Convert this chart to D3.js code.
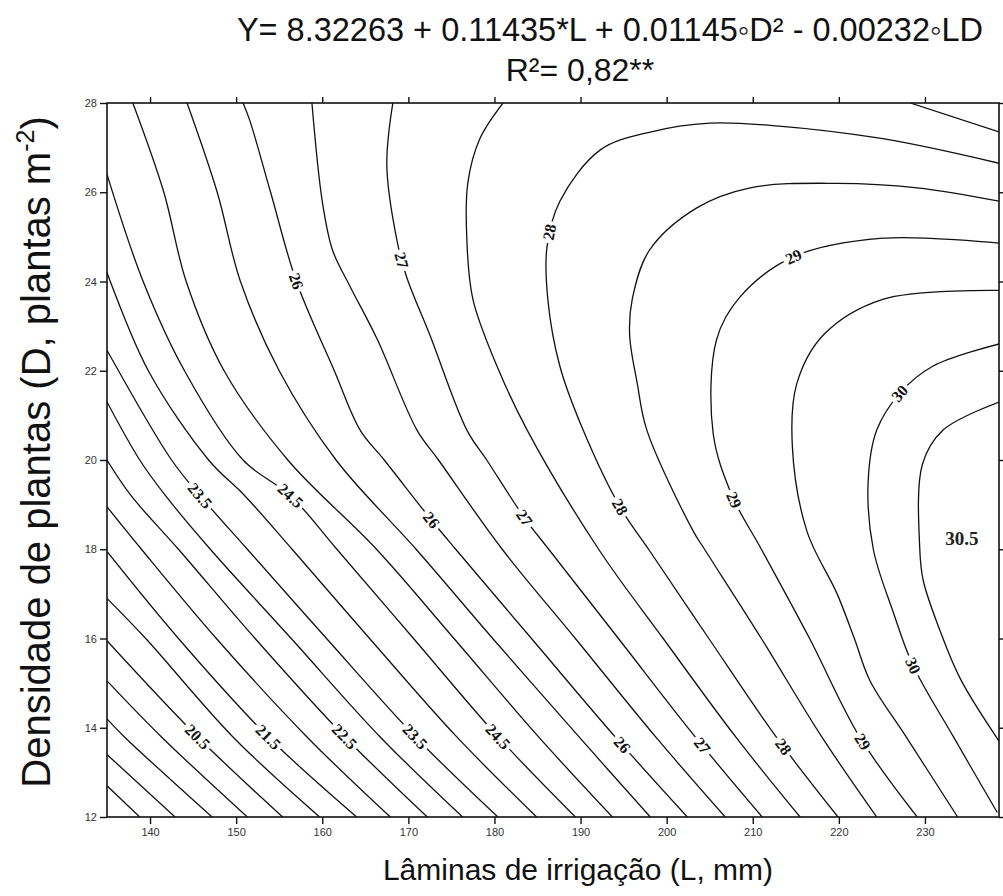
<!DOCTYPE html>
<html>
<head>
<meta charset="utf-8">
<script src="https://cdn.jsdelivr.net/npm/d3@7"></script>
<style>
  body { margin: 0; background: #fff; }
  svg { display: block; }
</style>
</head>
<body>
<svg id="chart" width="1003" height="896"></svg>
<script>
// Axis ranges and ticks
const xDomain = [135, 238.6];
const yDomain = [12, 28];
const xTicks = [140, 150, 160, 170, 180, 190, 200, 210, 220, 230];
const yTicks = [12, 14, 16, 18, 20, 22, 24, 26, 28];

// Contour level carried by each isoline below (same order)
const lineLevels = [18.5, 19, 19.5, 20, 20.5, 21, 21.5, 22, 22.5, 23, 23.5, 24, 24.5,
  25, 25.5, 26, 26.5, 27, 27.5, 27.5, 28, 28.5, 29, 29.5, 30, 30.5];

// Isolines as [L (mm), D (plants m-2)] points
const linePoints = [
  [[135, 12.7], [138.8, 12]],
  [[135, 13.4], [142.9, 12]],
  [[135, 14.2], [137, 13.8], [147.2, 12]],
  [[135, 15.05], [141.3, 13.8], [151.3, 12]],
  [[135, 15.95], [145.5, 13.8], [155.4, 12]],
  [[135, 16.9], [139.5, 16], [149.6, 13.8], [159.7, 12]],
  [[135, 17.95], [143.3, 16], [153.7, 13.8], [164, 12]],
  [[135, 18.95], [139, 18], [147.7, 16], [158.2, 13.8], [167.9, 12]],
  [[135, 20], [137.8, 19.2], [143.3, 18], [152.2, 16], [162.6, 13.8], [172.2, 12]],
  [[135, 21.3], [138.8, 20], [141.8, 19.2], [147, 18], [156.4, 16], [166.7, 13.8], [176.3, 12]],
  [[135, 22.46], [142.5, 20], [145.8, 19.2], [151.3, 18], [160.5, 16], [170.8, 13.8], [180.4, 12]],
  [[135, 24.2], [139.8, 22], [146.8, 20], [151, 19.2], [156.5, 18], [165.5, 16], [175.6, 13.8], [184.9, 12]],
  [[135, 26.4], [139.2, 24], [144, 22], [150.8, 20], [156.3, 19.2], [161.7, 18], [170.6, 16], [180.4, 13.8], [189.4, 12]],
  [[138, 28], [141.6, 26], [144.2, 24], [148.6, 22], [156, 20], [166.3, 18], [175.3, 16], [185.1, 13.8], [193.7, 12]],
  [[144.3, 28], [147.8, 26], [150.5, 24], [155, 22], [161.6, 20], [170.9, 18], [179.8, 16], [189.8, 13.8], [198.1, 12]],
  [[150.8, 28], [151.6, 27.6], [154, 26], [157, 24], [161.4, 22], [164.4, 20.67], [167.2, 20], [172.7, 18.65], [175.5, 18], [184.3, 16], [194, 13.8], [202.4, 12]],
  [[158.8, 28], [160, 25.8], [161.2, 24.7], [163.2, 23.9], [166.4, 22.7], [171, 20.67], [173.5, 20], [180.9, 18], [189.4, 16], [198.7, 13.8], [206.8, 12]],
  [[168.2, 28], [167.5, 26.6], [168.7, 24.9], [169.8, 24.1], [172.5, 22.8], [176.8, 20.67], [179.1, 20], [183.5, 18.7], [186.3, 18], [194.4, 16], [203.3, 13.8], [211.1, 12]],
  [[181, 28], [178.3, 27.2], [176.9, 26.2], [176.8, 24.9], [177.5, 23.6], [180.3, 22.1], [183.8, 20.67], [192.1, 18], [199.6, 16], [208, 13.8], [215.5, 12]],
  [[228.3, 28], [238.6, 27.35]],
  [[238.6, 26.65], [225.1, 27.2], [212, 27.5], [205, 27.55], [198.1, 27.35], [192.3, 26.95], [187.6, 25.8], [186.1, 24.77], [186.2, 23.6], [187.6, 22.1], [190.3, 20.67], [194.6, 18.94], [197.9, 18], [204.9, 16], [212.7, 13.8], [219.9, 12]],
  [[238.6, 25.8], [229.1, 26.1], [219.8, 26.2], [209.7, 26.1], [203.5, 25.65], [198, 24.7], [196, 23.6], [195.7, 22.8], [196.6, 21.7], [197.7, 20.67], [203.1, 18.4], [204.4, 18], [211, 16], [218, 13.8], [224.4, 12]],
  [[238.6, 24.86], [225.1, 24.97], [214.7, 24.55], [208.5, 23.65], [205.8, 22.7], [205.4, 20.6], [207.6, 19.2], [211, 18], [216.6, 16], [222.4, 13.8], [229.1, 12]],
  [[238.6, 23.8], [225.1, 23.6], [218.2, 22.8], [215.1, 21.7], [214.6, 20.3], [216.3, 18.4], [219.8, 17], [221.8, 16], [223.6, 15.06], [227.8, 13.8], [233.8, 12]],
  [[238.6, 22.6], [230.9, 22.1], [227.1, 21.5], [224.4, 20.67], [223.4, 19.5], [224, 18], [226.3, 16.6], [228.6, 15.4], [233.3, 13.8], [238.4, 12.1]],
  [[238.6, 21.3], [232.1, 20.67], [229.7, 19.9], [229.4, 18], [229.8, 17.3], [231.7, 16.2], [234.1, 15.1], [238.6, 13.7]]
];

// Inline level labels: level, and where along the isoline it sits (L, D)
const labelLevels = [20.5, 21.5, 22.5, 23.5, 24.5, 26, 27, 28, 29, 30,
  23.5, 24.5, 26, 27, 28, 29, 30,
  26, 27, 28, 29];
const labelL = [145.5, 153.7, 162.6, 170.8, 180.4, 194.8, 204.1, 213.5, 223, 228.6,
  145.8, 156.3, 172.7, 183.5, 194.6, 207.7, 227.1,
  157, 169.6, 186.8, 214.7];
const labelD = [13.8, 13.8, 13.8, 13.8, 13.8, 13.6, 13.6, 13.56, 13.7, 15.4,
  19.2, 19.2, 18.65, 18.7, 18.94, 19.1, 21.5,
  24, 24.5, 25.1, 24.55];

// Region annotation inside the innermost isoline
const peakLabel = { text: "30.5", L: 234.3, D: 18.25 };

const titleLines = ["Y= 8.32263 + 0.11435*L + 0.01145\u25E6D\u00B2 - 0.00232\u25E6LD", "R\u00B2= 0,82**"];

const plot = { left: 107, right: 999, top: 103, bottom: 817 };

const svg = d3.select("#chart");
const x = d3.scaleLinear().domain(xDomain).range([plot.left, plot.right]);
const y = d3.scaleLinear().domain(yDomain).range([plot.bottom, plot.top]);

svg.append("defs").append("clipPath").attr("id", "plotClip")
  .append("rect")
  .attr("x", plot.left).attr("y", plot.top)
  .attr("width", plot.right - plot.left).attr("height", plot.bottom - plot.top);

// Isolines
const lineGen = d3.line()
  .x(d => x(d[0])).y(d => y(d[1]))
  .curve(d3.curveCatmullRom.alpha(0.5));

const gLines = svg.append("g").attr("clip-path", "url(#plotClip)");
const paths = gLines.selectAll("path")
  .data(lineLevels.map((lv, i) => ({ level: lv, pts: linePoints[i] })))
  .join("path")
  .attr("d", d => lineGen(d.pts))
  .attr("fill", "none")
  .attr("stroke", "#111")
  .attr("stroke-width", 1.3);

// Labels placed on their isoline, rotated with it
const fmt = v => (Number.isInteger(v) ? String(v) : v.toFixed(1));
const gLabels = svg.append("g");
labelLevels.forEach((lv, i) => {
  const tx = x(labelL[i]), ty = y(labelD[i]);
  let best = null;
  paths.filter(d => d.level === lv).each(function () {
    const len = this.getTotalLength();
    for (let s = 0; s <= len; s += 1) {
      const p = this.getPointAtLength(s);
      const dist = (p.x - tx) ** 2 + (p.y - ty) ** 2;
      if (!best || dist < best.dist) best = { dist, s, node: this, len, p };
    }
  });
  if (!best) return;
  const a = best.node.getPointAtLength(Math.max(0, best.s - 5));
  const b = best.node.getPointAtLength(Math.min(best.len, best.s + 5));
  let ang = Math.atan2(b.y - a.y, b.x - a.x) * 180 / Math.PI;
  if (ang > 90) ang -= 180;
  if (ang < -90) ang += 180;
  const g = gLabels.append("g")
    .attr("transform", `translate(${best.p.x},${best.p.y}) rotate(${ang})`);
  const t = g.append("text")
    .attr("text-anchor", "middle")
    .attr("dominant-baseline", "central")
    .attr("font-family", "'Liberation Serif', 'Times New Roman', serif")
    .attr("font-weight", "bold")
    .attr("font-size", 16)
    .attr("fill", "#111")
    .text(fmt(lv));
  const bb = t.node().getBBox();
  g.insert("rect", "text")
    .attr("x", bb.x - 3).attr("y", bb.y)
    .attr("width", bb.width + 6).attr("height", bb.height)
    .attr("fill", "#fff");
});

svg.append("text")
  .attr("x", x(peakLabel.L)).attr("y", y(peakLabel.D))
  .attr("text-anchor", "middle")
  .attr("dominant-baseline", "central")
  .attr("font-family", "'Liberation Serif', 'Times New Roman', serif")
  .attr("font-weight", "bold")
  .attr("font-size", 19)
  .attr("fill", "#222")
  .text(peakLabel.text);

// Frame and axes
svg.append("rect")
  .attr("x", plot.left).attr("y", plot.top)
  .attr("width", plot.right - plot.left).attr("height", plot.bottom - plot.top)
  .attr("fill", "none").attr("stroke", "#111").attr("stroke-width", 1.6);

const tickFont = g => g.selectAll("text")
  .attr("font-family", "Arial, 'Liberation Sans', sans-serif")
  .attr("font-size", 11).attr("fill", "#333");

svg.append("g").attr("transform", `translate(0,${plot.bottom})`)
  .call(d3.axisBottom(x).tickValues(xTicks).tickSize(7).tickPadding(4).tickFormat(d3.format("d")))
  .call(g => g.select(".domain").remove())
  .call(g => g.selectAll("line").attr("stroke", "#111").attr("stroke-width", 1.4))
  .call(tickFont);

svg.append("g").attr("transform", `translate(0,${plot.top})`)
  .call(d3.axisTop(x).tickValues(xTicks).tickSize(6).tickFormat(""))
  .call(g => g.select(".domain").remove())
  .call(g => g.selectAll("line").attr("stroke", "#111").attr("stroke-width", 1.4));

svg.append("g").attr("transform", `translate(${plot.left},0)`)
  .call(d3.axisLeft(y).tickValues(yTicks).tickSize(7).tickPadding(3).tickFormat(d3.format("d")))
  .call(g => g.select(".domain").remove())
  .call(g => g.selectAll("line").attr("stroke", "#111").attr("stroke-width", 1.4))
  .call(tickFont);

svg.append("g").attr("transform", `translate(${plot.right},0)`)
  .call(d3.axisRight(y).tickValues(yTicks).tickSize(6).tickFormat(""))
  .call(g => g.select(".domain").remove())
  .call(g => g.selectAll("line").attr("stroke", "#111").attr("stroke-width", 1.4));

// Titles
const sans = "Arial, 'Liberation Sans', sans-serif";
svg.append("text")
  .attr("x", 610).attr("y", 41)
  .attr("text-anchor", "middle")
  .attr("font-family", sans).attr("font-size", 32.5).attr("fill", "#111")
  .text(titleLines[0]);
svg.append("text")
  .attr("x", 580).attr("y", 81)
  .attr("text-anchor", "middle")
  .attr("font-family", sans).attr("font-size", 32).attr("fill", "#111")
  .text(titleLines[1]);

svg.append("text")
  .attr("x", 578).attr("y", 880)
  .attr("text-anchor", "middle")
  .attr("font-family", sans).attr("font-size", 30).attr("fill", "#111")
  .text("Lâminas de irrigação (L, mm)");

const yt = svg.append("text")
  .attr("transform", "translate(50,452) rotate(-90)")
  .attr("text-anchor", "middle")
  .attr("font-family", sans).attr("font-size", 40).attr("fill", "#111");
yt.append("tspan").text("Densidade de plantas (D, plantas m");
yt.append("tspan").attr("font-size", 25).attr("dy", -16).text("-2");
yt.append("tspan").attr("dy", 16).text(")");
</script>
</body>
</html>
